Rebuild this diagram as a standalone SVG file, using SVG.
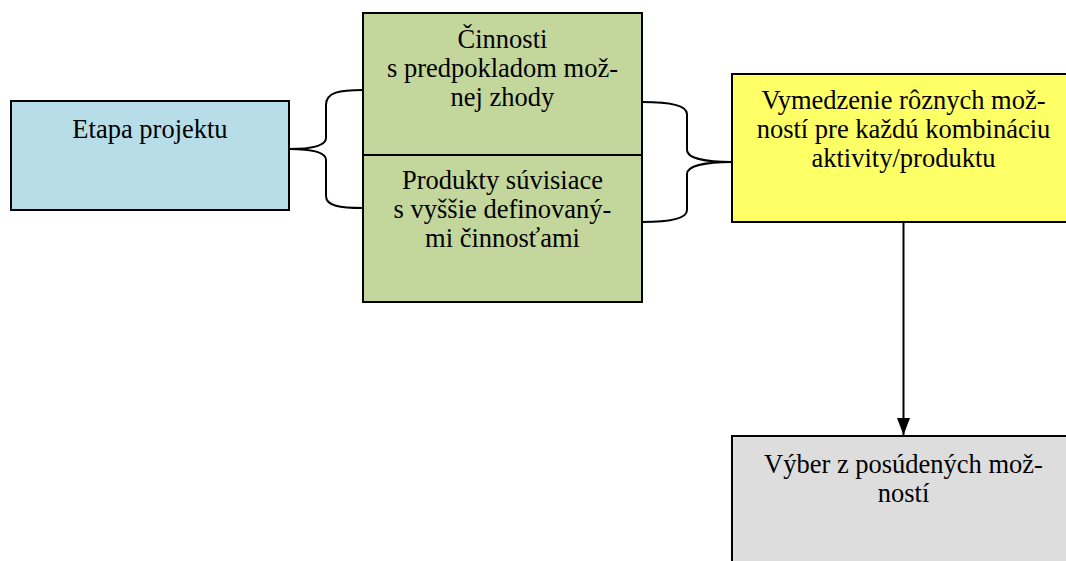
<svg xmlns="http://www.w3.org/2000/svg" width="1066" height="561" viewBox="0 0 1066 561">
<defs>
<style>
.box{stroke:#000;stroke-width:2}
.t{font-family:"Liberation Serif","Times New Roman",serif;font-size:26.5px;fill:#000;text-anchor:middle}
.c{fill:none;stroke:#000;stroke-width:2}
</style>
<marker id="arr" markerWidth="17" markerHeight="13" refX="17" refY="6.5" orient="auto" markerUnits="userSpaceOnUse" viewBox="0 0 17 13">
<path d="M0,0 L17,6.5 L0,13 Z" fill="#000"/>
</marker>
</defs>
<rect width="1066" height="561" fill="#fff"/>
<g id="etapa">
<rect class="box" x="11" y="101" width="278" height="109" fill="#B7DDE8"/>
<text class="t" x="150" y="138">Etapa projektu</text>
</g>
<g id="cinnosti">
<rect class="box" x="363" y="13" width="279" height="142" fill="#C3D69B"/>
<text class="t" x="502.5" y="48">Činnosti</text>
<text class="t" x="502.5" y="77">s predpokladom mož-</text>
<text class="t" x="502.5" y="106">nej zhody</text>
</g>
<g id="produkty">
<rect class="box" x="363" y="155" width="279" height="147" fill="#C3D69B"/>
<text class="t" x="502.5" y="189">Produkty súvisiace</text>
<text class="t" x="502.5" y="218">s vyššie definovaný-</text>
<text class="t" x="502.5" y="247">mi činnosťami</text>
</g>
<g id="vymedzenie">
<rect class="box" x="732" y="74" width="345" height="148" fill="#FFFF66"/>
<text class="t" x="903.5" y="109">Vymedzenie rôznych mož-</text>
<text class="t" x="903.5" y="138">ností pre každú kombináciu</text>
<text class="t" x="903.5" y="167">aktivity/produktu</text>
</g>
<g id="vyber">
<rect class="box" x="732" y="436" width="345" height="140" fill="#DDDDDD"/>
<text class="t" x="903.5" y="473">Výber z posúdených mož-</text>
<text class="t" x="903.5" y="502">ností</text>
</g>
<g id="connectors">
<path class="c" d="M363,90 C340,90 326,92 326,105 L326,138 C326,146 310,149 289,149 C310,149 326,152 326,160 L326,196 C326,206 340,208 363,208"/>
<path class="c" d="M642,102 C665,102 687,104 687,114 L687,150 C687,158 705,162 732,162 C705,162 687,166 687,174 L687,210 C687,220 665,222 642,222"/>
<line class="c" x1="903.5" y1="222" x2="903.5" y2="435" marker-end="url(#arr)"/>
</g>
</svg>
